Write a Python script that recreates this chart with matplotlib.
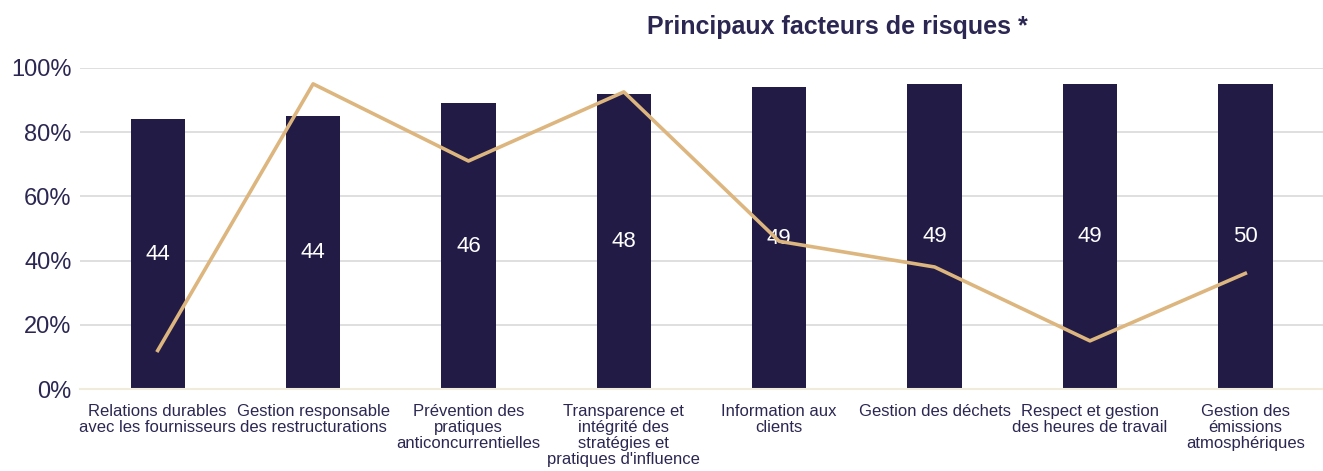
import numpy as np
import matplotlib.pyplot as plt
from matplotlib.ticker import PercentFormatter

plt.rcParams['font.family'] = ['Liberation Sans', 'DejaVu Sans']

categories = [
    "Relations durables\navec les fournisseurs",
    "Gestion responsable\ndes restructurations",
    "Prévention des\npratiques\nanticoncurrentielles",
    "Transparence et\nintégrité des\nstratégies et\npratiques d'influence",
    "Information aux\nclients",
    "Gestion des déchets",
    "Respect et gestion\ndes heures de travail",
    "Gestion des\némissions\natmosphériques",
]
bar_pct = [0.84, 0.85, 0.89, 0.92, 0.94, 0.95, 0.95, 0.95]
bar_labels = ["44", "44", "46", "48", "49", "49", "49", "50"]
line_pct = [0.12, 0.95, 0.71, 0.925, 0.46, 0.38, 0.15, 0.36]

navy = '#211b46'
text_col = '#2b2752'
gold = '#dcb67e'

fig = plt.figure(figsize=(13.23, 4.71), dpi=100)
ax = fig.add_axes([0.0605, 0.174, 0.9395, 0.682])

x = np.arange(len(categories))
bars = ax.bar(x, bar_pct, width=0.35, color=navy, zorder=2)
for b, lab in zip(bars, bar_labels):
    ax.text(b.get_x() + b.get_width() / 2, b.get_height() / 2, lab,
            ha='center', va='center', color='white', fontsize=16, zorder=3)
ax.plot(x, line_pct, color=gold, lw=2.6, zorder=4)

ax.set_xlim(-0.5, len(categories) - 0.5)
ax.set_ylim(0, 1)
ax.set_yticks([0, 0.2, 0.4, 0.6, 0.8, 1.0])
ax.yaxis.set_major_formatter(PercentFormatter(1.0, decimals=0))
ax.grid(axis='y', color='#dcdcdc', lw=1.3, zorder=0)
ax.set_axisbelow(True)
for s in ['top', 'right', 'left']:
    ax.spines[s].set_visible(False)
ax.spines['bottom'].set_color('#f1ebdc')
ax.spines['bottom'].set_linewidth(1.5)

ax.set_xticks(x)
ax.set_xticklabels(categories, fontsize=12, color=text_col, linespacing=1.08, va='top')
ax.tick_params(axis='x', length=0, pad=11)
ax.tick_params(axis='y', length=0, pad=6, labelsize=17, labelcolor=text_col)

fig.text(0.633, 0.943, "Principaux facteurs de risques *", ha='center', va='center',
         fontsize=18, fontweight='bold', color=text_col)

fig.savefig('out.png', dpi=100)
